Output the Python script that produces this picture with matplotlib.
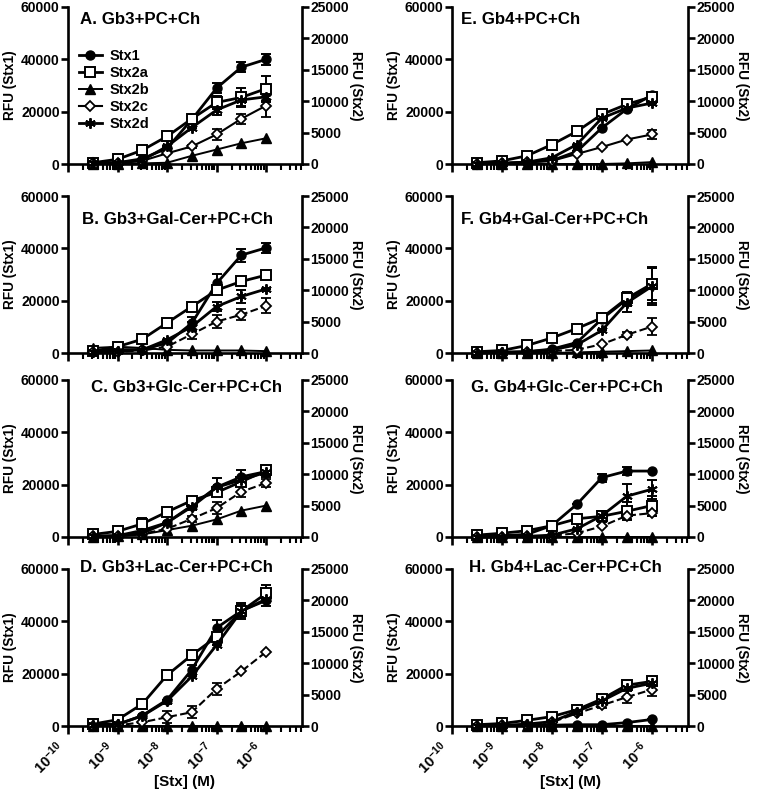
#! /usr/bin/env python3
""" Stx binding to glycolipid mixtures, 8 panels with twin y axes. """

import matplotlib
matplotlib.use('Agg')
import matplotlib.pyplot as plt
from matplotlib.ticker import LogLocator, NullFormatter, FixedLocator

plt.rcParams['font.family'] = ['Liberation Sans', 'DejaVu Sans']
plt.rcParams['font.weight'] = 'bold'
plt.rcParams['mathtext.fontset'] = 'custom'
plt.rcParams['mathtext.rm'] = 'Liberation Sans:bold'
plt.rcParams['mathtext.bf'] = 'Liberation Sans:bold'

conc = [3.16e-10, 1e-9, 3.16e-9, 1e-8, 3.16e-8, 1e-7, 3.16e-7, 1e-6]
panel_titles = ['A. Gb3+PC+Ch', 'B. Gb3+Gal-Cer+PC+Ch', 'C. Gb3+Glc-Cer+PC+Ch',
                'D. Gb3+Lac-Cer+PC+Ch', 'E. Gb4+PC+Ch', 'F. Gb4+Gal-Cer+PC+Ch',
                'G. Gb4+Glc-Cer+PC+Ch', 'H. Gb4+Lac-Cer+PC+Ch']
series_names = ['Stx1', 'Stx2a', 'Stx2b', 'Stx2c', 'Stx2d']
xtick_labels = [r'$\mathbf{10^{-10}}$', r'$\mathbf{10^{-9}}$', r'$\mathbf{10^{-8}}$',
                r'$\mathbf{10^{-7}}$', r'$\mathbf{10^{-6}}$']

# Stx1 on left axis, one row per panel A..H
stx1 = [[500, 500, 2000, 6000, 17000, 29000, 37000, 40000],
        [600, 1300, 1300, 3800, 11400, 26600, 37400, 40200],
        [300, 500, 2500, 5500, 12000, 19000, 23000, 25000],
        [1000, 500, 4000, 10000, 21500, 37500, 44000, 48000],
        [300, 300, 700, 1300, 4800, 13800, 21000, 26300],
        [300, 300, 500, 1500, 4000, 13000, 20500, 26000],
        [300, 500, 1000, 4400, 12500, 22700, 25200, 25200],
        [200, 200, 300, 300, 500, 500, 1300, 2500]]
stx1_err = [[0, 0, 0, 0, 1500, 2000, 2000, 2000],
            [0, 0, 0, 0, 2500, 3500, 2500, 2000],
            [0, 0, 0, 0, 0, 3500, 2500, 2000],
            [0, 0, 0, 0, 2000, 3000, 3000, 2000],
            [0, 0, 0, 0, 0, 0, 0, 1000],
            [0, 0, 0, 0, 0, 0, 2500, 7000],
            [0, 0, 0, 0, 0, 1500, 1500, 0],
            [0, 0, 0, 0, 0, 0, 0, 0]]

# Stx2 variants on right axis
stx2a = [[200, 750, 2200, 4400, 7200, 9800, 10600, 12000],
         [300, 1000, 2200, 4800, 7400, 10000, 11400, 12400],
         [400, 900, 2100, 4000, 5800, 7100, 8800, 10600],
         [300, 1000, 3500, 8100, 11300, 14200, 18300, 21100],
         [200, 500, 1300, 3100, 5200, 7900, 9500, 10700],
         [200, 400, 1200, 2400, 3900, 5600, 8700, 11000],
         [300, 600, 1000, 1800, 2900, 3300, 4100, 5000],
         [200, 400, 900, 1500, 2600, 4300, 6500, 7100]]
stx2a_err = [[0, 0, 0, 0, 500, 1000, 1500, 2000],
             [0, 0, 0, 400, 0, 0, 500, 0],
             [0, 0, 900, 0, 0, 0, 0, 500],
             [0, 0, 0, 0, 500, 0, 1000, 1300],
             [0, 0, 0, 0, 0, 0, 0, 0],
             [0, 0, 0, 0, 0, 0, 1000, 2500],
             [0, 0, 0, 0, 600, 900, 1400, 1600],
             [0, 0, 0, 0, 0, 0, 0, 300]]
stx2b = [[0, 0, 100, 200, 1300, 2300, 3300, 4100],
         [800, 1000, 800, 500, 400, 400, 400, 300],
         [0, 100, 400, 1100, 1800, 2800, 4200, 5000],
         [0, 0, 0, 0, 0, 0, 0, 0],
         [0, 0, 0, 0, 0, 0, 100, 300],
         [0, 0, 0, 0, 100, 200, 300, 400],
         [0, 0, 0, 0, 0, 0, 0, 0],
         [0, 0, 0, 0, 0, 0, 0, 0]]
stx2c = [[100, 100, 500, 1700, 2800, 4700, 7200, 9300],
         [100, 200, 400, 1000, 3000, 5000, 6100, 7500],
         [100, 200, 500, 1300, 2900, 4600, 7200, 8600],
         [0, 100, 600, 1400, 2200, 5900, 8700, 11800],
         [0, 100, 300, 500, 1600, 2700, 3900, 4700],
         [0, 0, 100, 300, 500, 1400, 2900, 4200],
         [0, 0, 100, 200, 600, 1700, 3400, 3800],
         [0, 100, 200, 600, 2000, 3300, 4600, 5800]]
stx2c_err = [[0, 0, 0, 0, 300, 800, 800, 1800],
             [0, 0, 0, 0, 700, 1000, 900, 1200],
             [0, 0, 0, 0, 500, 900, 900, 700],
             [0, 0, 0, 1000, 1000, 1000, 0, 0],
             [0, 0, 0, 0, 0, 0, 0, 700],
             [0, 0, 0, 0, 0, 0, 400, 1300],
             [0, 0, 0, 0, 0, 0, 500, 500],
             [0, 0, 0, 0, 0, 500, 1000, 1000]]
stx2d = [[100, 200, 600, 2800, 5800, 8600, 10200, 10700],
         [100, 300, 500, 2100, 4200, 7400, 9000, 10200],
         [100, 200, 600, 2300, 4800, 7900, 9100, 10300],
         [200, 300, 1600, 4000, 7900, 12900, 18300, 20200],
         [0, 100, 300, 1000, 3100, 7300, 8900, 9700],
         [0, 100, 200, 500, 1300, 3600, 8000, 10600],
         [0, 0, 100, 300, 1300, 3400, 6500, 7600],
         [0, 100, 300, 700, 2300, 4000, 6000, 6800]]
stx2d_err = [[0, 0, 0, 0, 0, 800, 1000, 800],
             [0, 0, 0, 0, 700, 700, 1000, 0],
             [0, 0, 0, 0, 0, 0, 0, 0],
             [0, 0, 0, 0, 0, 0, 0, 0],
             [0, 0, 0, 0, 0, 0, 0, 0],
             [0, 0, 0, 0, 0, 0, 1500, 3000],
             [0, 0, 0, 0, 0, 0, 2000, 1500],
             [0, 0, 0, 0, 0, 0, 0, 0]]

# per panel title placement (axes fraction)
title_x = [0.05, 0.06, 0.10, 0.05, 0.04, 0.04, 0.08, 0.07]
title_y = [0.92, 0.85, 0.95, 1.01, 0.92, 0.85, 0.95, 1.01]

W, H = 761, 791
fig = plt.figure(figsize=(W / 100, H / 100), dpi=100)

col_left = [68 / W, 452 / W]
col_width = [234 / W, 236 / W]
row_top = [7, 196, 380, 569]
row_h = 157

LW = 2.0
MS = 6.5
FS = 10.0
err_kw = dict(elinewidth=1.4, capsize=3.5, capthick=1.4, ecolor='black')


def style_axis(ax, ax2, bottom_row):
    for a in (ax, ax2):
        a.spines['top'].set_visible(False)
        for s in ('left', 'right', 'bottom'):
            a.spines[s].set_linewidth(1.9)
    ax.spines['right'].set_visible(False)
    ax2.spines['left'].set_visible(False)
    ax2.spines['bottom'].set_visible(False)
    ax.set_xscale('log')
    ax.set_xlim(1e-10, 5.3e-6)
    ax.set_ylim(0, 60000)
    ax2.set_ylim(0, 25000)
    ax.set_yticks([0, 20000, 40000, 60000])
    ax2.set_yticks([0, 5000, 10000, 15000, 20000, 25000])
    ax.xaxis.set_major_locator(FixedLocator([1e-10, 1e-9, 1e-8, 1e-7, 1e-6]))
    ax.xaxis.set_minor_locator(LogLocator(base=10, subs=range(2, 10), numticks=20))
    ax.xaxis.set_minor_formatter(NullFormatter())
    ax.tick_params(axis='x', which='major', length=6, width=1.9, direction='out', pad=3)
    ax.tick_params(axis='x', which='minor', length=4, width=1.5, direction='out')
    ax.tick_params(axis='y', length=5, width=1.9, labelsize=FS, pad=1)
    ax2.tick_params(axis='y', length=5, width=1.9, labelsize=FS, pad=1)
    ax.set_ylabel('RFU (Stx1)', fontsize=9.8, fontweight='bold', labelpad=3)
    ax2.set_ylabel('RFU (Stx2)', fontsize=9.8, fontweight='bold', rotation=270, labelpad=10)
    if bottom_row:
        ax.set_xticklabels(xtick_labels, rotation=45, fontsize=10.5, ha='right', va='top')
        ax.set_xlabel('[Stx] (M)', fontsize=11, fontweight='bold')
        ax.xaxis.set_label_coords(0.5, -0.31)
    else:
        ax.set_xticklabels([])


for p in range(8):
    col, row = p // 4, p % 4
    bottom = 1 - (row_top[row] + row_h) / H
    ax = fig.add_axes([col_left[col], bottom, col_width[col], row_h / H])
    ax2 = ax.twinx()
    style_axis(ax, ax2, row == 3)

    dashed_c = p not in (0, 4)
    h1 = ax.errorbar(conc, stx1[p], yerr=stx1_err[p], color='black', lw=LW,
                     marker='o', ms=MS, mfc='black', clip_on=False, zorder=3, **err_kw)
    h2 = ax2.errorbar(conc, stx2a[p], yerr=stx2a_err[p], color='black', lw=LW,
                      marker='s', ms=MS + 0.7, mfc='white', mew=1.4, clip_on=False,
                      zorder=3, **err_kw)
    h3, = ax2.plot(conc, stx2b[p], color='black', lw=1.4, marker='^', ms=MS,
                   mfc='black', clip_on=False, zorder=3)
    h4 = ax2.errorbar(conc, stx2c[p], yerr=stx2c_err[p], color='black', lw=1.5,
                      ls='--' if dashed_c else '-', marker='D', ms=MS - 1.3, mfc='white',
                      mew=1.3, clip_on=False, zorder=3, **err_kw)
    h5 = ax2.errorbar(conc, stx2d[p], yerr=stx2d_err[p], color='black', lw=LW,
                      marker=(6, 2, 0), ms=MS + 1, mew=1.4, clip_on=False, zorder=3,
                      **err_kw)

    ax.text(title_x[p], title_y[p], panel_titles[p], transform=ax.transAxes,
            fontsize=12.2, fontweight='bold', ha='left', va='center')

    if p == 0:
        # legend shows only line + marker, no error bars
        ax2.legend([h1[0], h2[0], h3, h4[0], h5[0]], series_names, loc='upper left',
                   bbox_to_anchor=(0.045, 0.735), frameon=False, fontsize=10.5,
                   handlelength=1.6, labelspacing=0.22, handletextpad=0.5,
                   borderaxespad=0, borderpad=0)

fig.savefig('out.png', dpi=100)
